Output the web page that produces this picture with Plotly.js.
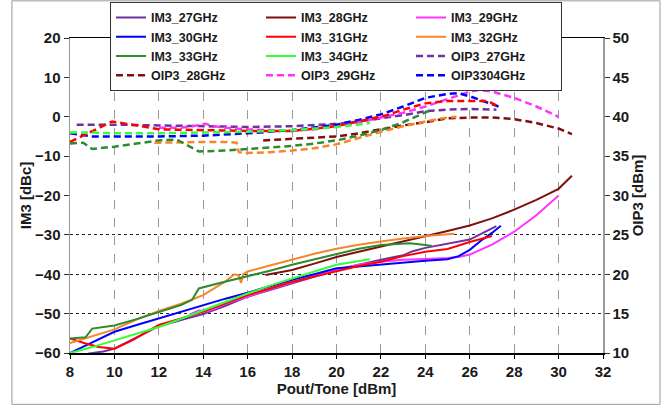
<!DOCTYPE html>
<html>
<head>
<meta charset="utf-8">
<script src="https://cdn.plot.ly/plotly-3.0.1.min.js"></script>
<style>html,body{margin:0;padding:0;background:#fff;}#chart{width:670px;height:407px;}</style>
</head>
<body>
<div id="chart"></div>
<script>
// ---- IM3 data (left axis, dBc) ----
var im3_27_x = [8.8, 9.5, 10, 11, 12, 13, 14, 15, 16, 17, 18, 19, 20, 21, 22, 23, 23.4, 24, 25, 26, 27.2];
var im3_27_y = [-60.2, -59.6, -58.9, -56, -53.2, -51.6, -50.1, -48, -45.7, -44, -42.3, -40.6, -38.9, -37.6, -36.3, -35.2, -34.2, -33.3, -32.3, -31.2, -27.8];
var im3_28_x = [16.8, 17.5, 18, 19, 20, 21, 22, 23, 24, 25, 26, 27, 28, 29, 30, 30.6];
var im3_28_y = [-40.2, -39.5, -38.9, -37.3, -35.6, -34.3, -33.0, -31.6, -30.3, -29, -27.6, -25.8, -23.6, -21.1, -18.3, -15];
var im3_29_x = [13.4, 13.8, 14.2, 14.5, 15, 16, 17, 18, 19, 20, 21, 22, 23, 24, 25, 25.5, 26, 27, 28, 29, 30];
var im3_29_y = [-50.2, -49.2, -49.4, -48.8, -47.5, -45.6, -43.8, -42.1, -40.3, -38.8, -37.6, -36.8, -36.3, -36.1, -35.9, -35.6, -35, -32.5, -29.2, -25, -20];
var im3_30_x = [8, 9, 10, 11, 12, 13, 14, 15, 16, 17, 18, 19, 20, 21, 22, 23, 24, 25, 25.5, 26, 26.5, 27, 27.4];
var im3_30_y = [-60, -57.2, -54.6, -52.9, -51.2, -49.5, -47.8, -46.2, -44.7, -43.0, -41.4, -40, -38.5, -38, -37.5, -37, -36.6, -36.2, -35.4, -33.8, -31.5, -29.5, -27.7];
var im3_31_x = [8, 8.7, 9.3, 10, 10.8, 11.5, 12, 13, 14, 15, 16, 17, 18, 19, 20, 21, 22, 23, 24, 25, 26, 27];
var im3_31_y = [-56.3, -57.6, -58.5, -58.9, -56.8, -54.5, -52.9, -51.2, -49.5, -47.4, -45.3, -43.6, -41.9, -40.6, -39.2, -37.9, -36.8, -35.4, -34.3, -33.6, -31.8, -30.3];
var im3_32_x = [8, 9, 10, 11, 12, 13, 14, 15, 15.4, 15.6, 15.7, 15.8, 16, 17, 18, 19, 20, 21, 22, 23, 24, 25, 25.3];
var im3_32_y = [-57.5, -55.8, -54, -51.5, -49.3, -47.5, -45.3, -41.8, -40.0, -40.3, -42.2, -40.0, -39.3, -37.8, -36.3, -34.8, -33.5, -32.5, -31.7, -30.9, -30.3, -29.9, -29.7];
var im3_33_x = [8, 8.7, 9, 10, 11, 12, 13, 13.5, 13.8, 14.7, 16, 17, 18, 19, 20, 21, 22, 23, 23.3, 24, 24.3];
var im3_33_y = [-56.3, -56.0, -53.8, -53, -51.4, -49.5, -47.8, -46.5, -43.6, -42.3, -40.6, -39.1, -37.6, -36.2, -34.9, -33.5, -32.6, -32.1, -32.1, -32.6, -32.8];
var im3_34_x = [8, 9, 10, 11, 12, 13, 14, 15, 16, 17, 18, 19, 20, 21, 21.5];
var im3_34_y = [-60, -58.5, -56.8, -55, -53.4, -51.3, -49.1, -47, -44.9, -42.9, -41, -39.3, -37.6, -36.6, -36.2];

// ---- OIP3 data (right axis, dBm) ----
var oip3_27_x = [8.3, 10, 12, 14, 16, 18, 20, 21, 22, 23, 24, 25, 26, 27.2];
var oip3_27_y = [39, 39, 38.9, 38.8, 38.7, 38.8, 39.1, 39.4, 39.8, 40.2, 40.7, 40.9, 41.0, 40.9];
var oip3_28_x = [16.7, 18, 19, 20, 21, 22, 23, 24, 25, 26, 27, 28, 29, 30, 30.6];
var oip3_28_y = [37.0, 37.2, 37.3, 37.5, 37.9, 38.4, 38.9, 39.3, 39.8, 39.9, 39.9, 39.7, 39.2, 38.5, 37.8];
var oip3_29_x = [12, 13, 13.7, 14.1, 14.5, 15, 16, 17, 18, 19, 20, 21, 22, 23, 24, 25, 26, 26.4, 27, 28, 29, 30];
var oip3_29_y = [38.6, 38.6, 38.9, 39.1, 38.8, 38.6, 38.4, 38.3, 38.2, 38.4, 38.8, 39.3, 39.9, 40.5, 41.3, 42.3, 43.2, 43.4, 43.2, 42.4, 41.3, 40.0];
var oip3_30_x = [8, 9, 10, 12, 14, 16, 18, 20, 21, 22, 23, 24, 25, 25.5, 26.1, 26.7, 27.4];
var oip3_30_y = [37.9, 37.5, 37.5, 37.5, 37.6, 37.9, 38.3, 39.0, 39.6, 40.3, 41.3, 42.4, 42.9, 43.0, 42.5, 41.9, 41.2];
var oip3_31_x = [8, 9, 9.9, 11, 12, 14, 16, 18, 20, 21, 22.25, 23, 24, 25, 26, 26.8, 27.3];
var oip3_31_y = [36.8, 38.2, 39.4, 38.9, 38.4, 38.3, 38.2, 38.2, 38.8, 39.4, 40.2, 40.9, 41.7, 42.0, 42.0, 42.0, 41.3];
var oip3_32_x = [11.8, 13, 14, 15, 15.5, 15.6, 16, 17, 18, 19, 20, 21, 22, 23, 24, 25, 25.4];
var oip3_32_y = [36.7, 36.8, 36.8, 36.8, 36.7, 35.5, 35.4, 35.5, 35.7, 36.0, 36.5, 37.3, 38.1, 38.8, 39.4, 39.9, 40.0];
var oip3_33_x = [8, 8.6, 9, 10, 11, 12, 12.8, 13.8, 15, 16, 17, 18, 19, 20, 21, 22, 23, 24, 24.2];
var oip3_33_y = [36.6, 36.7, 35.9, 36.2, 36.6, 37.0, 37.1, 35.6, 35.7, 35.9, 36.1, 36.3, 36.6, 37.0, 37.6, 38.3, 39.3, 40.6, 40.8];
var oip3_34_x = [8, 9, 10, 12, 14, 16, 18, 20, 21, 21.5];
var oip3_34_y = [38.0, 38.0, 37.9, 37.9, 38.0, 38.1, 38.3, 38.7, 39.0, 39.2];

var gridLevels = [-50, -40, -30];

var C27 = '#7030A0', C28 = '#7F1010', C29 = '#FF33FF', C30 = '#0000FF',
    C31 = '#FF0000', C32 = '#F7862A', C33 = '#2E8B2E', C34 = '#33FF33';

function im3(name, x, y, color) {
  return {type: 'scatter', mode: 'lines', name: name, x: x, y: y, yaxis: 'y',
          line: {color: color, width: 2}, hoverinfo: 'skip'};
}
function oip3(name, x, y, color, show) {
  return {type: 'scatter', mode: 'lines', name: name, x: x, y: y, yaxis: 'y2',
          showlegend: show, line: {color: color, width: 2.5, dash: '7px,4px'}, hoverinfo: 'skip'};
}

var data = [
  im3('IM3_27GHz', im3_27_x, im3_27_y, C27),
  im3('IM3_28GHz', im3_28_x, im3_28_y, C28),
  im3('IM3_29GHz', im3_29_x, im3_29_y, C29),
  im3('IM3_30GHz', im3_30_x, im3_30_y, C30),
  im3('IM3_31GHz', im3_31_x, im3_31_y, C31),
  im3('IM3_32GHz', im3_32_x, im3_32_y, C32),
  im3('IM3_33GHz', im3_33_x, im3_33_y, C33),
  im3('IM3_34GHz', im3_34_x, im3_34_y, C34),
  oip3('OIP3_27GHz', oip3_27_x, oip3_27_y, C27, true),
  oip3('OIP3_28GHz', oip3_28_x, oip3_28_y, C28, true),
  oip3('OIP3_29GHz', oip3_29_x, oip3_29_y, C29, true),
  oip3('OIP3304GHz', oip3_30_x, oip3_30_y, C30, true),
  oip3('OIP3_31GHz', oip3_31_x, oip3_31_y, C31, false),
  oip3('OIP3_32GHz', oip3_32_x, oip3_32_y, C32, false),
  oip3('OIP3_33GHz', oip3_33_x, oip3_33_y, C33, false),
  oip3('OIP3_34GHz', oip3_34_x, oip3_34_y, C34, false),
  {type: 'scatter', mode: 'lines', x: [], y: [], yaxis: 'y3', showlegend: false, hoverinfo: 'skip'}
];

var FONT = 'Liberation Sans, Arial, sans-serif';
var tf = {family: FONT, size: 15, color: '#1a1a1a', weight: 'bold'};

var layout = {
  width: 670, height: 407,
  margin: {l: 70, r: 67, t: 38, b: 54, autoexpand: false},
  paper_bgcolor: '#ffffff', plot_bgcolor: '#ffffff',
  font: {family: FONT, size: 15, color: '#1a1a1a'},
  showlegend: true,
  xaxis: {
    range: [8, 32], tick0: 8, dtick: 2, tickfont: tf,
    showline: true, linecolor: '#000', linewidth: 1.5, mirror: true,
    ticks: 'outside', ticklen: 4, tickcolor: '#000',
    showgrid: true, gridcolor: '#9a9a9a', griddash: 'dash', gridwidth: 1,
    zeroline: false,
    title: {text: 'Pout/Tone [dBm]', font: tf, standoff: 4}
  },
  yaxis: {
    range: [-60, 20], dtick: 10, tickfont: tf,
    showline: true, linecolor: '#9a9a9a', linewidth: 1.5,
    ticks: 'outside', ticklen: 5, tickcolor: '#333',
    showgrid: false, zeroline: false,
    title: {text: 'IM3 [dBc]', font: tf, standoff: 0}
  },
  yaxis2: {
    overlaying: 'y', side: 'right', anchor: 'x',
    range: [10, 50], dtick: 5, tickfont: tf,
    showline: true, linecolor: '#9a9a9a', linewidth: 1.5,
    ticks: 'outside', ticklen: 5, tickcolor: '#333',
    showgrid: false, zeroline: false,
    title: {text: 'OIP3 [dBm]', font: tf, standoff: 0}
  },
  yaxis3: {
    overlaying: 'y', anchor: 'x', range: [-60, 20],
    tickmode: 'array', tickvals: gridLevels,
    showticklabels: false, ticks: '', showline: false, zeroline: false,
    showgrid: true, gridcolor: '#222', griddash: 'dot', gridwidth: 1
  },
  legend: {
    orientation: 'h', x: 0.075, y: 1.115, xanchor: 'left', yanchor: 'top',
    bgcolor: '#ffffff', bordercolor: '#333', borderwidth: 1,
    font: {family: FONT, size: 12.5, color: '#1a1a1a', weight: 'bold'},
    entrywidth: 105, entrywidthmode: 'pixels', itemwidth: 30
  },
  shapes: [{
    type: 'rect', xref: 'paper', yref: 'paper',
    x0: -0.109, x1: 1.107, y0: -0.163, y1: 1.118,
    line: {color: '#9a9a9a', width: 1}, fillcolor: 'rgba(0,0,0,0)', layer: 'below'
  }]
};

Plotly.newPlot('chart', data, layout, {staticPlot: true, displayModeBar: false});
</script>
</body>
</html>
